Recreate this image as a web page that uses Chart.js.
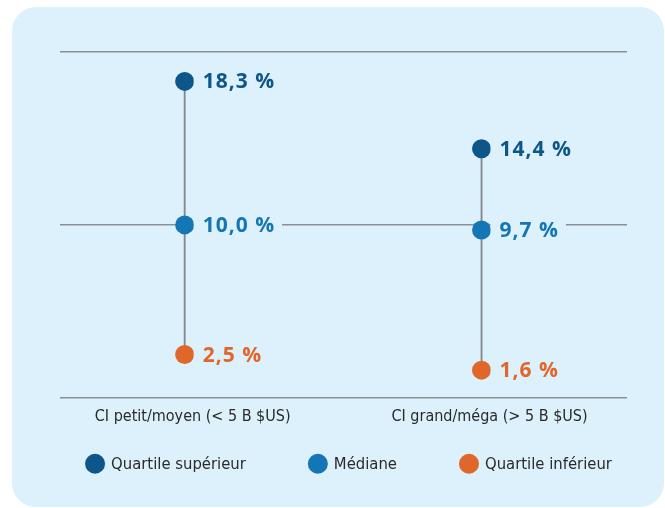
<!DOCTYPE html>
<html>
<head>
<meta charset="utf-8">
<script src="https://cdn.jsdelivr.net/npm/chart.js@4"></script>
<style>
  body { margin: 0; background: #fff; }
  #panel { position: absolute; left: 12px; top: 7px; width: 652px; height: 500px; background: #ddf1fc; border-radius: 24px; }
  #wrap { position: absolute; left: 0; top: 0; width: 665px; height: 508px; }
</style>
</head>
<body>
<div id="panel"></div>
<div id="wrap"><canvas id="chart"></canvas></div>
<script>
// Data

const categories = ['CI petit/moyen (< 5 B $US)', 'CI grand/méga (> 5 B $US)'];
const upper_quartile = [18.3, 14.4];
const median = [10.0, 9.7];
const lower_quartile = [2.5, 1.6];
const series_names = ['Quartile supérieur', 'Médiane', 'Quartile inférieur'];

// Styles

const panel_color = '#ddf1fc';
const line_color = '#8b9094';
const text_color = '#2a2a2a';
const colors = ['#0d5689', '#1576b6', '#e0662a'];
const narrow_font = "'Liberation Sans Narrow', 'DejaVu Sans Condensed', sans-serif";

const toPoints = (values) => values.map((v, i) => ({ x: i, y: v }));

const pointDataset = (label, values, color) => ({
    type: 'line',
    label: label,
    data: toPoints(values),
    order: 0,
    showLine: false,
    pointRadius: 9.5,
    pointHoverRadius: 9.5,
    pointBackgroundColor: color,
    pointBorderWidth: 0,
    borderColor: color,
    valueLabel: true
});

// Value labels, with a patch of panel colour behind them that cuts the grid line
const valueLabels = {
    id: 'valueLabels',
    afterDatasetsDraw(chart) {
        const ctx = chart.ctx;
        ctx.save();
        ctx.font = "bold 21px 'Open Sans', sans-serif";
        ctx.letterSpacing = '1px';
        ctx.textBaseline = 'middle';
        chart.data.datasets.forEach((ds, di) => {
            if (!ds.valueLabel) return;
            chart.getDatasetMeta(di).data.forEach((pt, i) => {
                const text = ds.data[i].y.toFixed(1).replace('.', ',') + ' %';
                const w = ctx.measureText(text).width;
                const x = pt.x + 18;
                ctx.fillStyle = panel_color;
                ctx.fillRect(pt.x + 9, pt.y - 12, w + 16, 24);
                ctx.fillStyle = ds.pointBackgroundColor;
                ctx.fillText(text, x, pt.y + 1);
            });
        });
        ctx.restore();
    }
};

// Legend row under the axis
const legendRow = {
    id: 'legendRow',
    afterDraw(chart) {
        const ctx = chart.ctx;
        const items = chart.data.datasets.filter(ds => ds.valueLabel);
        ctx.save();
        ctx.font = '16.5px ' + narrow_font;
        ctx.textBaseline = 'middle';
        const r = 10, gap = 6, spacing = 62;
        const widths = items.map(ds => 2 * r + gap + ctx.measureText(ds.label).width);
        const total = widths.reduce((a, b) => a + b, 0) + spacing * (items.length - 1);
        let x = (chart.chartArea.left + chart.chartArea.right) / 2 + 5 - total / 2;
        const y = chart.chartArea.bottom + 66;
        items.forEach((ds, i) => {
            ctx.fillStyle = ds.pointBackgroundColor;
            ctx.beginPath();
            ctx.arc(x + r, y, r, 0, Math.PI * 2);
            ctx.fill();
            ctx.fillStyle = text_color;
            ctx.fillText(ds.label, x + 2 * r + gap, y + 1);
            x += widths[i] + spacing;
        });
        ctx.restore();
    }
};

const chart = new Chart(document.getElementById('chart'), {
    type: 'bar',
    data: {
        datasets: [
            {
                type: 'bar',
                label: 'range',
                data: categories.map((c, i) => ({ x: i, y: [lower_quartile[i], upper_quartile[i]] })),
                order: 10,
                backgroundColor: '#84898d',
                barThickness: 1.2,
                grouped: false
            },
            pointDataset(series_names[0], upper_quartile, colors[0]),
            pointDataset(series_names[1], median, colors[1]),
            pointDataset(series_names[2], lower_quartile, colors[2])
        ]
    },
    options: {
        responsive: true,
        maintainAspectRatio: false,
        animation: false,
        layout: { padding: { left: 60, right: 38, top: 52, bottom: 81 } },
        plugins: {
            legend: { display: false },
            tooltip: { enabled: false }
        },
        scales: {
            x: {
                type: 'linear',
                offset: false,
                min: -0.42,
                max: 1.49,
                afterBuildTicks: (scale) => { scale.ticks = categories.map((c, i) => ({ value: i })); },
                ticks: {
                    callback: (v) => categories[v],
                    color: text_color,
                    font: { family: narrow_font, size: 16 },
                    padding: 1,
                    labelOffset: 8,
                    maxRotation: 0,
                    autoSkip: false
                },
                grid: { display: false },
                border: { display: false }
            },
            y: {
                min: 0,
                max: 20,
                ticks: { display: false, stepSize: 10 },
                grid: { color: line_color, lineWidth: 1.5, drawTicks: false },
                border: { display: false }
            }
        }
    },
    plugins: [valueLabels, legendRow]
});
</script>
</body>
</html>
